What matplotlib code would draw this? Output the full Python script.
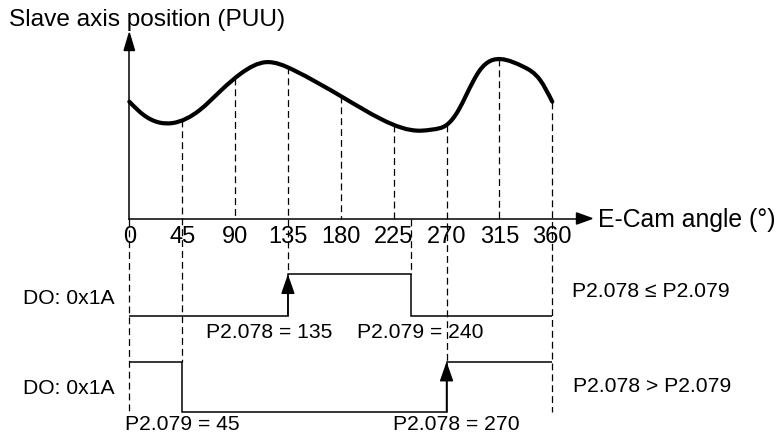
import numpy as np
import matplotlib
matplotlib.use("Agg")
import matplotlib.pyplot as plt
from matplotlib.path import Path
from matplotlib.patches import PathPatch, FancyArrowPatch

plt.rcParams['font.family'] = ['Liberation Sans', 'DejaVu Sans']

# ---------------- data ----------------
cam_angles = [0, 12, 37, 60, 78, 95, 116, 140, 182, 215, 248, 258, 270, 280, 287,
              298.5, 317, 335, 349.6, 360]
slave_pos = [116.8, 103.7, 95.5, 108.5, 128.0, 145.0, 156.3, 148.3, 121.0, 99.0,
             87.8, 89.0, 93.5, 108.0, 124.0, 148.5, 159.3, 152.0, 138.5, 116.8]
tick_angles = [0, 45, 90, 135, 180, 225, 270, 315, 360]

# DO 0x1A, case P2.078 <= P2.079
p2078_a, p2079_a = 135, 240
do1_edges = [0, p2078_a, p2079_a, 360]
do1_states = [0, 1, 0]
# DO 0x1A, case P2.078 > P2.079
p2078_b, p2079_b = 270, 45
do2_edges = [0, p2079_b, p2078_b, 360]
do2_states = [1, 0, 1]

# ---------------- layout ----------------
W, H = 780, 443
X0, PX_PER_DEG = 129.3, 1.175
AXIS_Y = 218.5


def ax_x(px):
    return (px - X0) / PX_PER_DEG


fig = plt.figure(figsize=(W / 100, H / 100), dpi=100)
ax = fig.add_axes([0, 0, 1, 1])
ax.set_xlim(ax_x(0), ax_x(W))
ax.set_ylim(H, 0)
ax.axis('off')

x = np.asarray(cam_angles, float)
y = AXIS_Y - np.asarray(slave_pos, float)
n = len(x)

# natural cubic spline slopes (smooth curve through the read points)
h = np.diff(x)
d = np.diff(y) / h
A = np.zeros((n, n))
b = np.zeros(n)
A[0, 0], A[0, 1], b[0] = 2, 1, 3 * d[0]
A[-1, -2], A[-1, -1], b[-1] = 1, 2, 3 * d[-1]
for i in range(1, n - 1):
    A[i, i - 1] = h[i]
    A[i, i] = 2 * (h[i - 1] + h[i])
    A[i, i + 1] = h[i - 1]
    b[i] = 3 * (h[i] * d[i - 1] + h[i - 1] * d[i])
m = np.linalg.solve(A, b)

verts = [(x[0], y[0])]
codes = [Path.MOVETO]
for i in range(n - 1):
    hi = h[i]
    verts += [(x[i] + hi / 3, y[i] + m[i] * hi / 3),
              (x[i + 1] - hi / 3, y[i + 1] - m[i + 1] * hi / 3),
              (x[i + 1], y[i + 1])]
    codes += [Path.CURVE4] * 3
ax.add_patch(PathPatch(Path(verts, codes), fill=False, lw=3.0, color='black',
                       capstyle='round', joinstyle='round', zorder=5))


def curve_at(a):
    i = int(np.clip(np.searchsorted(x, a) - 1, 0, n - 2))
    t = (a - x[i]) / h[i]
    hi = h[i]
    h00 = 2 * t**3 - 3 * t**2 + 1
    h10 = t**3 - 2 * t**2 + t
    h01 = -2 * t**3 + 3 * t**2
    h11 = t**3 - t**2
    return h00 * y[i] + h10 * hi * m[i] + h01 * y[i + 1] + h11 * hi * m[i + 1]


dash = dict(color='black', lw=0.9, linestyle=(0, (5.5, 3.2)), zorder=2)

# level geometry of timing diagrams (pixel rows)
DO1_LOW, DO1_HIGH = 315.7, 274.3
DO2_LOW, DO2_HIGH = 411.7, 361.7

# dashed guides
ends = {0: DO2_LOW, 45: DO2_HIGH, 135: DO1_HIGH, 270: DO2_HIGH, 360: DO2_LOW}
for a in tick_angles:
    top = AXIS_Y if a == 0 else curve_at(a)
    bottom = ends.get(a, AXIS_Y)
    ax.plot([a, a], [top, bottom], **dash)
ax.plot([p2079_a, p2079_a], [AXIS_Y, DO1_HIGH], **dash)

# axes with arrows
axis_kw = dict(color='black', lw=1.1, zorder=4)
ax.plot([0, 0], [AXIS_Y, 45], **axis_kw)
ax.plot([0, ax_x(580)], [AXIS_Y, AXIS_Y], **axis_kw)
ax.add_patch(plt.Polygon([[ax_x(X0 - 5.2), 50.5], [ax_x(X0 + 5.2), 50.5], [0, 33]],
                         closed=True, color='black', zorder=4))
ax.add_patch(plt.Polygon([[ax_x(576.5), AXIS_Y - 5.6], [ax_x(576.5), AXIS_Y + 5.6],
                          [ax_x(592), AXIS_Y]], closed=True, color='black', zorder=4))

ax.text(ax_x(9), 20, 'Slave axis position (PUU)', fontsize=17.6, ha='left', va='center')
ax.text(ax_x(598), AXIS_Y + 1, 'E-Cam angle (°)', fontsize=17.8, ha='left', va='center')
for a in tick_angles:
    ax.text(a, 237, str(a), fontsize=17, ha='center', va='center', zorder=3)


# timing diagrams
def draw_do(edges, states, low, high):
    levels = [low + (high - low) * s for s in states]
    ax.stairs(levels, edges, baseline=None, color='black', lw=1.1, zorder=4)


draw_do(do1_edges, do1_states, DO1_LOW, DO1_HIGH)
draw_do(do2_edges, do2_states, DO2_LOW, DO2_HIGH)


def rising_arrow(a, low, high):
    arr = FancyArrowPatch((a, low), (a, high), arrowstyle='-|>,head_length=1.2,head_width=0.42',
                          mutation_scale=10, color='black', lw=1.1, shrinkA=0, shrinkB=0,
                          zorder=6)
    ax.add_patch(arr)


rising_arrow(p2078_a, DO1_LOW, DO1_HIGH)
rising_arrow(p2078_b, DO2_LOW, DO2_HIGH)

fs = 15.2
ax.text(ax_x(115), 298.3, 'DO: 0x1A', fontsize=fs, ha='right', va='center')
ax.text(ax_x(115), 388.3, 'DO: 0x1A', fontsize=fs, ha='right', va='center')
ax.text(ax_x(572), 291.7, 'P2.078 ≤ P2.079', fontsize=fs, ha='left', va='center')
ax.text(ax_x(573), 386.7, 'P2.078 > P2.079', fontsize=fs, ha='left', va='center')
ax.text(ax_x(206), 333, f'P2.078 = {p2078_a}', fontsize=fs, ha='left', va='center')
ax.text(ax_x(357), 333, f'P2.079 = {p2079_a}', fontsize=fs, ha='left', va='center')
ax.text(ax_x(125), 425, f'P2.079 = {p2079_b}', fontsize=fs, ha='left', va='center')
ax.text(ax_x(393), 425, f'P2.078 = {p2078_b}', fontsize=fs, ha='left', va='center')

fig.savefig('out.png', dpi=100)
